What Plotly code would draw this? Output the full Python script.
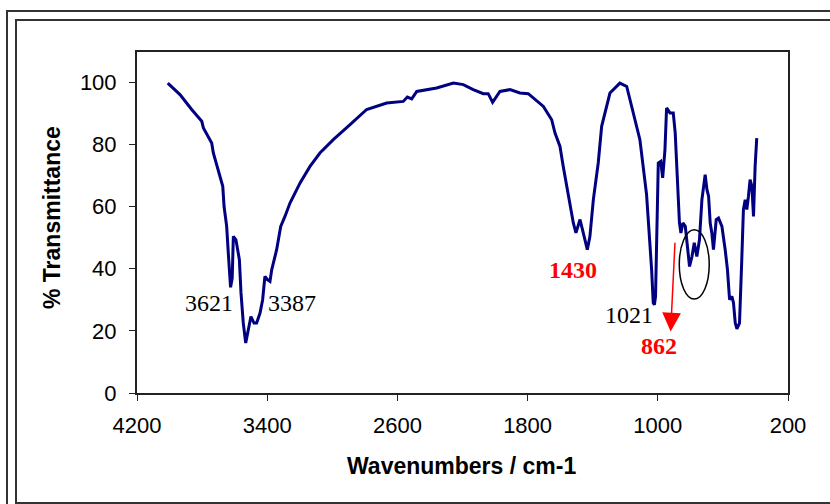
import plotly.graph_objects as go

wavenumber = [4011, 3936, 3864, 3802, 3792, 3741, 3731, 3700, 3673, 3665, 3649, 3639, 3629, 3625, 3615,
              3608, 3592, 3571, 3561, 3547, 3532, 3516, 3500, 3481, 3465, 3444, 3428, 3414, 3399, 3383,
              3372, 3342, 3317, 3291, 3260, 3198, 3137, 3076, 3014, 2994, 2891, 2789, 2666, 2564, 2539,
              2512, 2481, 2359, 2256, 2195, 2134, 2072, 2042, 2015, 1970, 1908, 1847, 1796, 1703, 1652,
              1632, 1601, 1581, 1560, 1540, 1519, 1503, 1478, 1458, 1433, 1417, 1396, 1366, 1345, 1294,
              1233, 1191, 1151, 1110, 1069, 1048, 1038, 1028, 1021, 1014, 1007, 997, 982, 970, 956,
              946, 925, 905, 893, 883, 873, 867, 858, 846, 831, 821, 805, 790, 776, 760,
              744, 729, 709, 698, 688, 678, 668, 658, 641, 627, 606, 586, 572, 559, 545,
              535, 524, 514, 498, 484, 474, 463, 453, 443, 433, 422, 412, 402, 392]
transmittance = [99.7, 96.0, 91.2, 87.4, 85.3, 80.4, 77.2, 71.8, 66.5, 60.0, 53.6, 45.0, 36.0, 34.0, 37.0,
                 50.4, 49.3, 42.9, 32.2, 22.5, 16.1, 20.4, 24.6, 22.5, 22.5, 25.7, 30.0, 37.5, 36.5, 35.9,
                 39.7, 46.1, 53.6, 56.8, 61.1, 67.6, 72.9, 77.2, 80.4, 81.5, 86.3, 91.2, 93.3, 93.8, 95.2,
                 94.6, 97.0, 98.1, 99.7, 99.2, 97.6, 96.3, 96.3, 93.5, 97.0, 97.6, 96.5, 96.3, 92.2, 87.9,
                 83.7, 79.3, 72.9, 66.5, 61.1, 54.7, 51.5, 55.8, 51.5, 46.1, 50.4, 62.2, 74.0, 85.8, 96.5,
                 99.7, 98.6, 90.1, 81.5, 63.8, 47.9, 39.7, 29.0, 28.4, 31.0, 51.5, 74.0, 74.5, 69.2, 78.3,
                 91.7, 90.1, 90.1, 83.7, 72.9, 62.2, 54.7, 51.5, 54.7, 53.6, 49.3, 40.7, 43.9, 48.3, 43.9,
                 49.3, 62.2, 70.2, 65.4, 63.3, 54.7, 51.5, 46.1, 55.8, 56.3, 53.6, 46.1, 39.7, 30.0, 31.1,
                 29.0, 22.5, 20.6, 22.5, 42.9, 59.0, 62.2, 59.0, 63.3, 68.6, 66.5, 56.8, 72.9, 82.0]

x_ticks = [4200, 3400, 2600, 1800, 1000, 200]
y_ticks = [0, 20, 40, 60, 80, 100]

fig = go.Figure()
fig.add_trace(go.Scatter(x=wavenumber, y=transmittance, mode="lines",
                         line=dict(color="#000080", width=3), showlegend=False,
                         hoverinfo="skip"))

L, R, T, B = 137, 42, 52, 111
W, H = 830, 504
pw, ph = W - L - R, H - T - B


def px(x):
    return (x - L) / pw


def py(y):
    return (H - B - y) / ph


serif = "Liberation Serif, Times New Roman, serif"
sans = "Liberation Sans, Arial, sans-serif"

annotations = [
    dict(x=3758, y=29, xref="x", yref="y", text="3621", showarrow=False,
         font=dict(family=serif, size=24, color="black")),
    dict(x=3245, y=29, xref="x", yref="y", text="3387", showarrow=False,
         font=dict(family=serif, size=24, color="black")),
    dict(x=1521, y=39.7, xref="x", yref="y", text="<b>1430</b>", showarrow=False,
         font=dict(family=serif, size=24, color="#FF0000")),
    dict(x=1180, y=25.2, xref="x", yref="y", text="1021", showarrow=False,
         font=dict(family=serif, size=24, color="black")),
    dict(x=990, y=15, xref="x", yref="y", text="<b>862</b>", showarrow=False,
         font=dict(family=serif, size=24, color="#FF0000")),
    dict(x=921, y=19.8, xref="x", yref="y", ax=894, ay=48.8, axref="x", ayref="y",
         text="", showarrow=True, arrowcolor="#FF0000", arrowwidth=1.5,
         arrowhead=2, arrowsize=2.5, standoff=0),
    dict(x=px(52), y=py(218), xref="paper", yref="paper", text="<b>% Transmittance</b>",
         xanchor="center", yanchor="middle",
         textangle=-90, showarrow=False, font=dict(family=sans, size=23, color="black")),
    dict(x=px(461), y=py(466), xref="paper", yref="paper", text="<b>Wavenumbers / cm-1</b>",
         xanchor="center", yanchor="middle",
         showarrow=False, font=dict(family=sans, size=23, color="black")),
]

shapes = [
    dict(type="circle", xref="x", yref="y", x0=868, x1=684, y0=30.2, y1=52.5,
         line=dict(color="black", width=1.5)),
    dict(type="rect", xref="paper", yref="paper", x0=px(7), x1=px(850), y0=py(11), y1=py(520),
         line=dict(color="#333333", width=2)),
    dict(type="rect", xref="paper", yref="paper", x0=px(16), x1=px(850), y0=py(20), y1=py(503),
         line=dict(color="#333333", width=2)),
]

fig.update_layout(
    width=W, height=H,
    margin=dict(l=L, r=R, t=T, b=B),
    paper_bgcolor="white", plot_bgcolor="white",
    annotations=annotations, shapes=shapes,
    xaxis=dict(range=[4200, 200], tickvals=x_ticks, ticktext=[str(v) for v in x_ticks],
               showgrid=False, zeroline=False, showline=True, mirror=True,
               linecolor="#222222", linewidth=2, ticks="outside", ticklen=6,
               tickcolor="#222222", tickwidth=1,
               tickfont=dict(family=sans, size=22, color="black"), ticklabelstandoff=6),
    yaxis=dict(range=[0, 109.7], tickvals=y_ticks, ticktext=[str(v) for v in y_ticks],
               showgrid=False, zeroline=False, showline=True, mirror=True,
               linecolor="#222222", linewidth=2, ticks="outside", ticklen=6,
               tickcolor="#222222", tickwidth=1,
               tickfont=dict(family=sans, size=22, color="black"), ticklabelstandoff=8),
)

fig.write_html("out.html")
